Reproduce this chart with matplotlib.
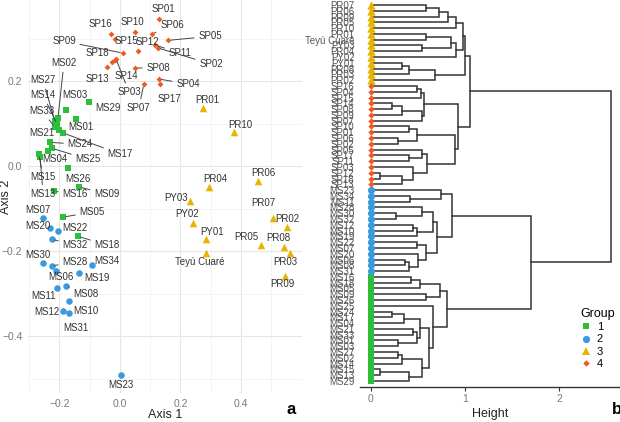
import matplotlib
matplotlib.use("Agg")
import matplotlib.pyplot as plt
from matplotlib.lines import Line2D
import numpy as np

plt.rcParams['font.family'] = ['Liberation Sans', 'DejaVu Sans']

# ---- PCoA scores (panel a) ----
g1_names = ["MS29", "MS03", "MS01", "MS02", "MS27", "MS14", "MS33", "MS21", "MS17", "MS24",
            "MS25", "MS04", "MS15", "MS13", "MS26", "MS16", "MS09", "MS05", "MS18"]
g1_x = [-0.102, -0.179, -0.145, -0.205, -0.215, -0.208, -0.215, -0.202, -0.188, -0.231,
        -0.225, -0.238, -0.268, -0.264, -0.172, -0.218, -0.136, -0.188, -0.139]
g1_y = [0.151, 0.132, 0.111, 0.113, 0.106, 0.099, 0.092, 0.085, 0.078, 0.056,
        0.042, 0.035, 0.028, 0.022, -0.005, -0.059, -0.049, -0.120, -0.165]

g2_names = ["MS07", "MS20", "MS22", "MS32", "MS30", "MS28", "MS34", "MS06", "MS19", "MS11",
            "MS08", "MS10", "MS12", "MS31", "MS23"]
g2_x = [-0.255, -0.231, -0.205, -0.225, -0.255, -0.225, -0.093, -0.212, -0.136, -0.208,
        -0.179, -0.169, -0.188, -0.169, 0.003]
g2_y = [-0.122, -0.146, -0.153, -0.172, -0.228, -0.235, -0.233, -0.247, -0.252, -0.287,
        -0.282, -0.318, -0.341, -0.346, -0.492]

g3_names = ["PR01", "PR10", "PR06", "PR04", "PY03", "PY02", "PY01", "Teyú Cuaré", "PR07",
            "PR02", "PR05", "PR08", "PR03", "PR09"]
g3_x = [0.274, 0.377, 0.456, 0.294, 0.231, 0.241, 0.284, 0.284, 0.506,
        0.552, 0.466, 0.542, 0.562, 0.545]
g3_y = [0.136, 0.080, -0.035, -0.049, -0.082, -0.134, -0.172, -0.205, -0.122,
        -0.144, -0.186, -0.191, -0.205, -0.259]

g4_names = ["SP01", "SP16", "SP10", "SP06", "SP05", "SP15", "SP12", "SP11", "SP02", "SP09",
            "SP18", "SP14", "SP03", "SP13", "SP08", "SP07", "SP04", "SP17"]
g4_x = [0.129, -0.030, 0.050, 0.106, 0.159, -0.017, 0.060, 0.116, 0.126, 0.010,
        -0.026, -0.017, -0.013, -0.043, 0.050, 0.079, 0.129, 0.132]
g4_y = [0.346, 0.311, 0.315, 0.311, 0.296, 0.299, 0.271, 0.285, 0.278, 0.266,
        0.245, 0.249, 0.252, 0.233, 0.231, 0.193, 0.205, 0.193]

# ---- hierarchical clustering (panel b): (left, right, height) ----
yellow = ((((("PR07", "PR06", 0.59), "PR09", 0.72), "PR05", 0.82), "PR10", 0.90),
           ((("PR01", "Teyú Cuaré", 0.59), ("PY03", "PR04", 0.54), 0.85), "PY02", 0.90), 0.98)
yellow = (yellow, ((("PY01", "PR08", 0.33), "PR03", 0.40), "PR02", 0.68), 1.00)
orange = (((("SP16", "SP04", 0.49), "SP15", 0.53),
           ((("SP14", "SP08", 0.22), "SP09", 0.33), "SP07", 0.54), 0.56),
          ((("SP10", "SP01", 0.40), ("SP06", "SP02", 0.29), 0.49),
           (("SP05", ("SP17", "SP11", 0.40), 0.54),
            ("SP03", (("SP12", "SP18", 0.10), "SP13", 0.33), 0.45), 0.60), 0.89), 0.93)
blue = (("MS23", ("MS34", "MS11", 0.41), 0.75),
        ((("MS28", ("MS30", "MS32", 0.27), 0.54), (("MS12", "MS10", 0.45), "MS19", 0.49), 0.66),
         (("MS22", "MS07", 0.49), ("MS20", (("MS06", "MS08", 0.36), "MS31", 0.40), 0.50), 0.59),
         0.70), 0.86)
green = (((("MS16", "MS18", 0.43), "MS05", 0.52), ("MS09", "MS26", 0.58), 0.73),
         ("MS25", (((("MS24", "MS17", 0.22), "MS04", 0.35),
                    (("MS21", "MS33", 0.45), ("MS01", "MS03", 0.29), 0.49), 0.52),
                   ((("MS27", "MS02", 0.29), "MS14", 0.33),
                    (("MS15", "MS13", 0.10), "MS29", 0.40), 0.54), 0.62), 0.66), 0.81)
tree = ((yellow, orange, 1.05), (blue, green, 1.70), 2.55)

# label placement (pixel offsets from the point, like ggrepel did)
lab_off = {
    "SP01": (4, 10), "SP16": (-10, 10), "SP10": (-3, 10), "SP06": (20, 9), "SP05": (42, 4),
    "SP15": (12, -2), "SP12": (9, 9), "SP11": (25, -8), "SP02": (53, -16), "SP09": (-59, 12),
    "SP18": (-15, 9), "SP14": (12, -16), "SP03": (13, -33), "SP13": (-10, -12), "SP08": (23, 0),
    "SP07": (-5, -24), "SP04": (29, -5), "SP17": (10, -15),
    "MS29": (19, -6), "MS03": (9, 15), "MS01": (5, -8), "MS02": (6, 55), "MS27": (-12, 41),
    "MS14": (-14, 29), "MS33": (-13, 16), "MS21": (-17, -3), "MS17": (57, -21), "MS24": (30, -2),
    "MS25": (36, -11), "MS04": (7, -8), "MS15": (4, -23), "MS13": (3, -37), "MS26": (10, -11),
    "MS16": (21, -3), "MS09": (28, -7), "MS05": (29, 5), "MS18": (29, -9),
    "MS07": (-5, 8), "MS20": (-12, 2), "MS22": (17, 3), "MS32": (23, -6), "MS30": (-5, 8),
    "MS28": (23, 4), "MS34": (15, 4), "MS06": (5, -6), "MS19": (18, -5), "MS11": (-14, -8),
    "MS08": (20, -8), "MS10": (17, -10), "MS12": (-16, -1), "MS31": (7, -15), "MS23": (0, -10),
    "PR01": (5, 8), "PR10": (6, 7), "PR06": (6, 8), "PR04": (6, 8), "PY03": (-14, 3),
    "PY02": (-6, 9), "PY01": (6, 7), "Teyú Cuaré": (-6, -9), "PR07": (-10, 15), "PR02": (0, 8),
    "PR05": (-15, 8), "PR08": (-6, 9), "PR03": (-5, -9), "PR09": (-2, -8),
}

groups = [
    ("1", g1_names, g1_x, g1_y, "#2DBE3C", "s", 19),
    ("2", g2_names, g2_x, g2_y, "#3A9BDC", "o", 22),
    ("3", g3_names, g3_x, g3_y, "#E8B400", "^", 30),
    ("4", g4_names, g4_x, g4_y, "#EE5A24", "D", 9),
]

fig = plt.figure(figsize=(6.2, 4.22), dpi=100)

# ---------- panel a ----------
ax = fig.add_axes([28 / 620, 29 / 422, 274 / 620, 393 / 422])
ax.set_xlim(-0.304, 0.602)
ax.set_ylim(-0.534, 0.391)
for s in ax.spines.values():
    s.set_visible(False)
ax.set_xticks([-0.2, 0.0, 0.2, 0.4])
ax.set_yticks([-0.4, -0.2, 0.0, 0.2])
ax.set_xticks([-0.3, -0.1, 0.1, 0.3, 0.5], minor=True)
ax.set_yticks([-0.5, -0.3, -0.1, 0.1, 0.3], minor=True)
ax.grid(which="major", color="#E6E6E6", lw=0.8)
ax.grid(which="minor", color="#F2F2F2", lw=0.6)
ax.tick_params(which="both", length=0, labelsize=7.5, labelcolor="#7A7A7A", pad=4)
ax.set_axisbelow(True)
ax.set_xlabel("Axis 1", fontsize=9, color="#222222")
ax.set_ylabel("Axis 2", fontsize=9, color="#222222")
ax.xaxis.set_label_coords(0.5, -0.04)
ax.yaxis.set_label_coords(-0.058, 0.5)

for gid, names, xs, ys, col, mk, sz in groups:
    ax.scatter(xs, ys, marker=mk, s=sz, color=col, zorder=3, linewidths=0)
    for n, x, y in zip(names, xs, ys):
        dx, dy = lab_off[n]
        ap = None
        if np.hypot(dx, dy) > 20:
            ap = dict(arrowstyle="-", color="#444444", lw=0.7, shrinkA=1, shrinkB=2)
        ax.annotate(n, (x, y), xytext=(dx, dy), textcoords="offset pixels",
                    ha="center", va="center", fontsize=7, color="#333333",
                    arrowprops=ap, zorder=4)

fig.text(291 / 620, 1 - 410 / 422, "a", fontsize=12, fontweight="bold", ha="center", va="center")

# ---------- panel b ----------
bx = fig.add_axes([360 / 620, 35 / 422, 260 / 620, 387 / 422])
leaves = []


def draw(node):
    if isinstance(node, str):
        leaves.append(node)
        return len(leaves) - 1, 0.0
    left, right, h = node
    yl, hl = draw(left)
    yr, hr = draw(right)
    bx.plot([hl, h, h, hr], [yl, yl, yr, yr], color="#333333", lw=1.1, zorder=2,
            solid_joinstyle="miter")
    return (yl + yr) / 2, h


draw(tree)
n = len(leaves)
bx.set_ylim(n + 0.04, -0.864)
bx.set_xlim(-0.117, 2.649)

for gid, names, xs, ys, col, mk, sz in groups:
    idx = [i for i, nm in enumerate(leaves) if nm in names]
    bx.scatter([0] * len(idx), idx, marker=mk, s=sz * 1.2, color=col, zorder=3,
               linewidths=0, clip_on=False)

for side in ["left", "top", "right"]:
    bx.spines[side].set_visible(False)
bx.spines["bottom"].set_color("#333333")
bx.spines["bottom"].set_linewidth(1.0)
bx.set_yticks(range(n))
bx.set_yticklabels(leaves, fontsize=7, color="#555555")
bx.tick_params(axis="y", length=0, pad=4)
bx.set_xticks([0, 1, 2])
bx.tick_params(axis="x", length=3, width=0.8, color="#333333", labelsize=7.5,
               labelcolor="#7A7A7A", pad=2)
bx.set_xlabel("Height", fontsize=9, color="#222222")
bx.xaxis.set_label_coords(0.5, -0.055)

handles = [Line2D([], [], linestyle="", marker=g[5], color=g[4],
                  markersize=np.sqrt(g[6]) * 1.1, markeredgewidth=0) for g in groups]
leg = fig.legend(handles, [g[0] for g in groups], title="Group", loc="upper left",
                 bbox_to_anchor=(580 / 620, 1 - 308 / 422), frameon=False, fontsize=8,
                 title_fontsize=9, handlelength=1.0, handletextpad=0.5, labelspacing=0.2,
                 borderpad=0, borderaxespad=0, alignment="left")

fig.text(617 / 620, 1 - 410 / 422, "b", fontsize=12, fontweight="bold", ha="center", va="center")

fig.savefig("out.png", dpi=100)
